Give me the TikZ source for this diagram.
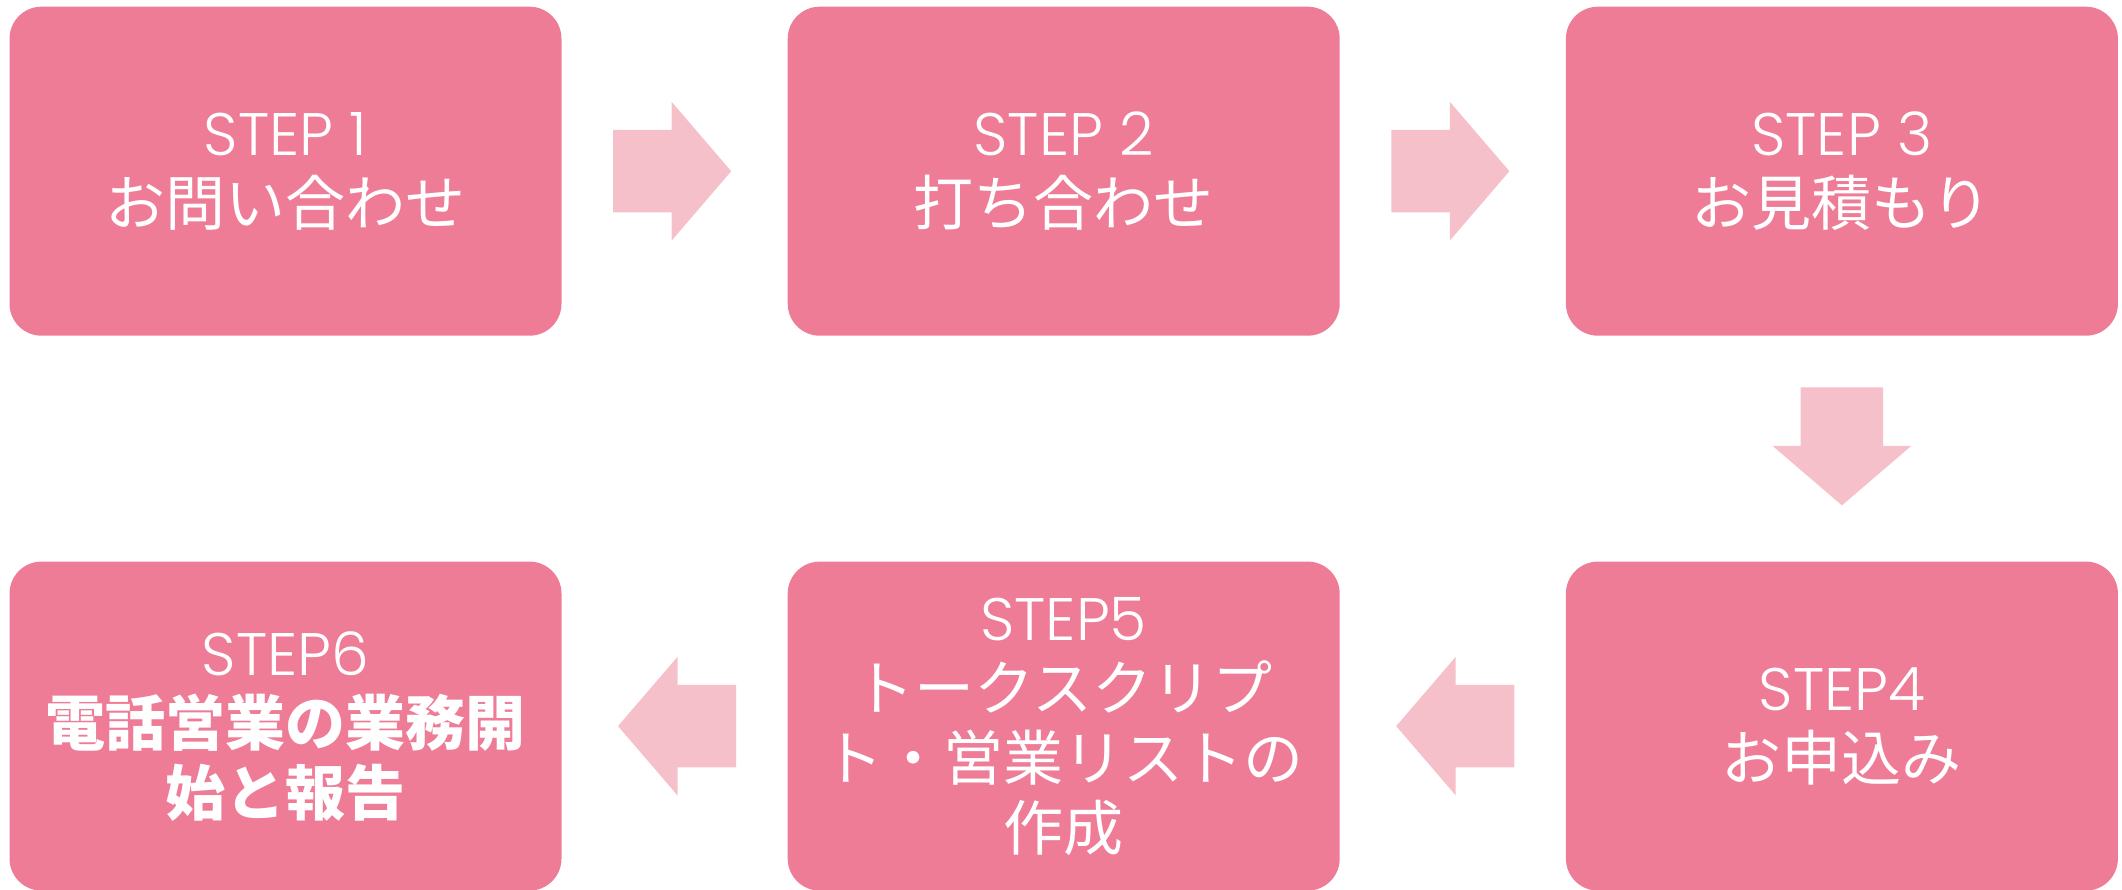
\documentclass[tikz,border=0pt]{standalone}
\usepackage{fontspec}
\setmainfont{Noto Sans CJK JP}
\newfontfamily\stepfont{Poppins Light}
\usetikzlibrary{calc}
\definecolor{boxpink}{RGB}{239,124,150}
\definecolor{arrowpink}{RGB}{246,192,203}
\tikzset{
  stepbox/.style={fill=boxpink, draw=none, rounded corners=32pt, minimum width=552pt, minimum height=329pt, inner sep=0pt},
  steptext/.style={text=white, align=center, font=\fontsize{60}{70}\selectfont},
  flowarrow/.pic={\fill[arrowpink] (51.4,-41.2) -- (110,-41.2) -- (110,-69.3) -- (169.5,0) -- (110,69.3) -- (110,41.2) -- (51.4,41.2) -- cycle;}
}
\begin{document}
\begin{tikzpicture}[x=1pt,y=-1pt]
\useasboundingbox (0,0) rectangle (2122,890);
\node[stepbox] (b1) at (285.5,171.2) {};
\node[stepbox] (b2) at (1063.7,171.2) {};
\node[stepbox] (b3) at (1841.9,171.2) {};
\node[stepbox] (b4) at (1841.9,726.1) {};
\node[stepbox] (b5) at (1063.7,726.1) {};
\node[stepbox] (b6) at (285.5,726.1) {};
\node[steptext] (t1) at (b1.center) {{\stepfont STEP 1}\\お問い合わせ};
\node[steptext] (t2) at (b2.center) {{\stepfont STEP 2}\\打ち合わせ};
\node[steptext] (t3) at (b3.center) {{\stepfont STEP 3}\\お見積もり};
\node[steptext] (t4) at (b4.center) {{\stepfont STEP4}\\お申込み};
\node[steptext] (t5) at (b5.center) {{\stepfont STEP5}\\トークスクリプ\\ト・営業リストの\\作成};
\node[steptext] (t6) at (b6.center) {{\stepfont STEP6}\\{\bfseries 電話営業の業務開}\\{\bfseries 始と報告}};
\pic at (b1.east) {flowarrow};
\pic at (b2.east) {flowarrow};
\pic[rotate=-90] at (b3.south) {flowarrow};
\pic[rotate=180] at (b4.west) {flowarrow};
\pic[rotate=180] at (b5.west) {flowarrow};
\end{tikzpicture}
\end{document}
